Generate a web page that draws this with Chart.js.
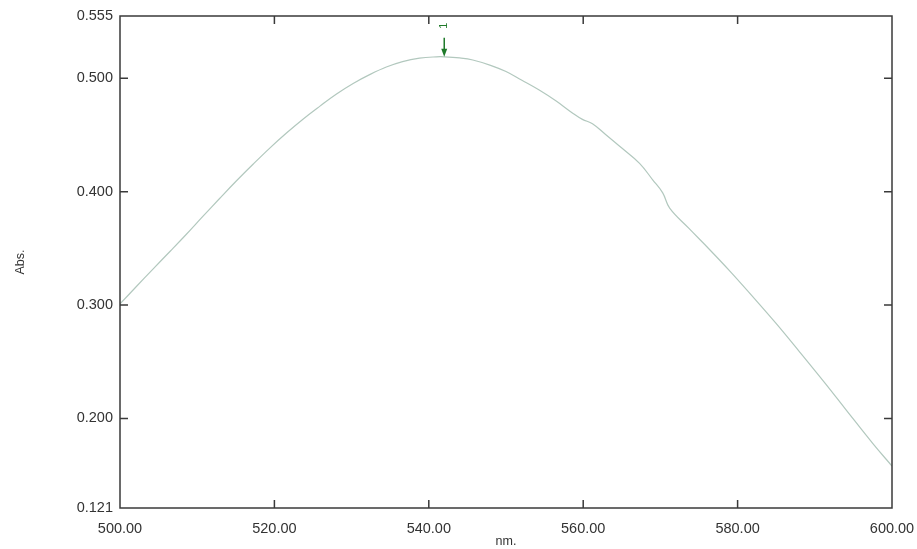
<!DOCTYPE html>
<html>
<head>
<meta charset="utf-8">
<script src="https://cdn.jsdelivr.net/npm/chart.js@4.4.1/dist/chart.umd.min.js"></script>
<style>
  body { margin: 0; background: #fff; }
  #wrap { width: 917px; height: 549px; position: relative; }
</style>
</head>
<body>
<div id="wrap"><canvas id="spectrum"></canvas></div>
<script>
// wavelength (nm) and absorbance
const wavelengths = [500, 502, 504.3, 506.5, 508.6, 510.7, 512.9, 515, 517.2, 519.4,
    521.6, 523.7, 525.9, 528, 530.2, 532.4, 534.5, 536.6, 538.8, 541, 542, 544,
    545.7, 548, 550, 552, 554.3, 556.5, 558.6, 559.9, 561.2, 562.9, 565, 567.3,
    569, 570.3, 571.2, 573.7, 576.3, 579, 581.5, 584.9, 588, 591.4, 594, 597.5, 600];
const absorbance = [0.301, 0.3155, 0.332, 0.3475, 0.3625, 0.378, 0.394, 0.409, 0.424, 0.4385,
    0.452, 0.464, 0.4755, 0.486, 0.4955, 0.5035, 0.510, 0.5148, 0.5178, 0.519, 0.519, 0.518,
    0.5162, 0.5115, 0.506, 0.4985, 0.4897, 0.4800, 0.4695, 0.4638, 0.4600, 0.4505, 0.4385, 0.425,
    0.4105, 0.399, 0.3855, 0.3676, 0.3495, 0.330, 0.311, 0.2845, 0.259, 0.2305, 0.208, 0.178, 0.158];

const yTicks = [0.121, 0.200, 0.300, 0.400, 0.500, 0.555];
const xTicks = [500, 520, 540, 560, 580, 600];

// peak pick
const peakNm = 542;
const peakAbs = 0.519;
const peakLabel = '1';

const points = wavelengths.map((w, i) => ({ x: w, y: absorbance[i] }));
const fontFamily = '"Liberation Sans", Arial, sans-serif';

// plot frame with inward tick marks, plus the peak arrow
const framePlugin = {
    id: 'frame',
    afterDatasetsDraw(chart) {
        const ctx = chart.ctx;
        const a = chart.chartArea;
        const xs = chart.scales.x;
        const ys = chart.scales.y;
        ctx.save();
        ctx.strokeStyle = '#3a3a3a';
        ctx.lineWidth = 1.5;
        ctx.strokeRect(a.left, a.top, a.right - a.left, a.bottom - a.top);

        const len = 8;
        ctx.beginPath();
        xTicks.slice(1, -1).forEach((v) => {
            const px = xs.getPixelForValue(v);
            ctx.moveTo(px, a.bottom); ctx.lineTo(px, a.bottom - len);
            ctx.moveTo(px, a.top); ctx.lineTo(px, a.top + len);
        });
        yTicks.slice(1, -1).forEach((v) => {
            const py = ys.getPixelForValue(v);
            ctx.moveTo(a.left, py); ctx.lineTo(a.left + len, py);
            ctx.moveTo(a.right, py); ctx.lineTo(a.right - len, py);
        });
        ctx.stroke();

        // peak arrow
        const px = xs.getPixelForValue(peakNm);
        const py = ys.getPixelForValue(peakAbs);
        ctx.strokeStyle = '#1f7a2a';
        ctx.fillStyle = '#1f7a2a';
        ctx.lineWidth = 1.5;
        ctx.beginPath();
        ctx.moveTo(px, py - 19);
        ctx.lineTo(px, py - 4);
        ctx.stroke();
        ctx.beginPath();
        ctx.moveTo(px - 3, py - 8);
        ctx.lineTo(px + 3, py - 8);
        ctx.lineTo(px, py);
        ctx.closePath();
        ctx.fill();

        ctx.translate(px, py - 31);
        ctx.rotate(-Math.PI / 2);
        ctx.font = '11px ' + fontFamily;
        ctx.textAlign = 'center';
        ctx.textBaseline = 'middle';
        ctx.fillText(peakLabel, 0, 0);
        ctx.restore();
    }
};

new Chart(document.getElementById('spectrum'), {
    type: 'line',
    data: {
        datasets: [{
            data: points,
            borderColor: '#b2c8be',
            borderWidth: 1.2,
            pointRadius: 0,
            tension: 0.4,
            fill: false,
        }],
    },
    options: {
        responsive: true,
        maintainAspectRatio: false,
        animation: false,
        layout: { padding: { left: 0, right: 25, top: 16, bottom: 0 } },
        plugins: { legend: { display: false }, tooltip: { enabled: false } },
        scales: {
            x: {
                type: 'linear',
                min: 500,
                max: 600,
                grid: { display: false, drawTicks: false },
                border: { display: false },
                afterBuildTicks: (scale) => { scale.ticks = xTicks.map((v) => ({ value: v })); },
                afterFit: (scale) => {
                    scale.height = 41;
                    // keep the end labels from squeezing the plot
                    scale.paddingLeft = 0;
                    scale.paddingRight = 0;
                },
                ticks: {
                    padding: 12,
                    color: '#333',
                    maxRotation: 0,
                    font: { family: fontFamily, size: 14.5 },
                    callback: (v) => Number(v).toFixed(2),
                },
                title: {
                    display: true,
                    text: 'nm.',
                    color: '#333',
                    padding: { top: 0, bottom: 0 },
                    font: { family: fontFamily, size: 12.5 },
                },
            },
            y: {
                min: 0.121,
                max: 0.555,
                grid: { display: false, drawTicks: false },
                border: { display: false },
                afterBuildTicks: (scale) => { scale.ticks = yTicks.map((v) => ({ value: v })); },
                afterFit: (scale) => {
                    scale.width = 120;
                    scale.paddingTop = 0;
                    scale.paddingBottom = 0;
                },
                ticks: {
                    padding: 7,
                    color: '#333',
                    font: { family: fontFamily, size: 14.5 },
                    callback: (v) => Number(v).toFixed(3),
                },
                title: {
                    display: true,
                    text: 'Abs.',
                    color: '#333',
                    padding: { top: 13, bottom: 0 },
                    font: { family: fontFamily, size: 12.5 },
                },
            },
        },
    },
    plugins: [framePlugin],
});
</script>
</body>
</html>
